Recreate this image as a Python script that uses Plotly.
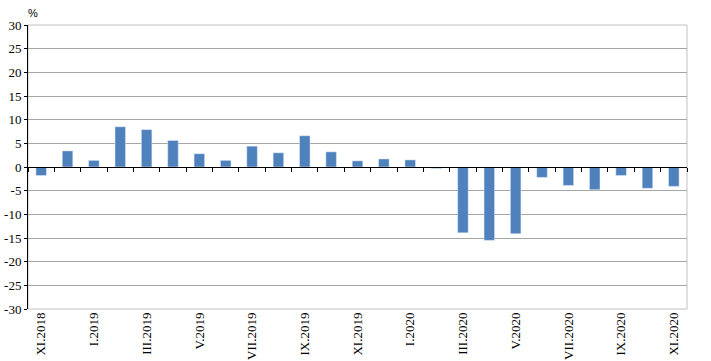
import plotly.graph_objects as go

months = ["XI.2018", "XII.2018", "I.2019", "II.2019", "III.2019", "IV.2019", "V.2019",
          "VI.2019", "VII.2019", "VIII.2019", "IX.2019", "X.2019", "XI.2019", "XII.2019",
          "I.2020", "II.2020", "III.2020", "IV.2020", "V.2020", "VI.2020", "VII.2020",
          "VIII.2020", "IX.2020", "X.2020", "XI.2020"]
values = [-1.8, 3.4, 1.4, 8.5, 7.9, 5.6, 2.8, 1.4, 4.4, 3.0, 6.6, 3.2, 1.3, 1.7,
          1.5, -0.3, -13.9, -15.5, -14.1, -2.2, -3.9, -4.8, -1.8, -4.5, -4.1]
y_ticks = list(range(-30, 31, 5))
y_tick_text = [str(v) for v in y_ticks]

idx = list(range(len(months)))
label_idx = idx[::2]
label_txt = [months[i] for i in label_idx]
boundaries = [i - 0.5 for i in range(len(months) + 1)]

fig = go.Figure()
fig.add_trace(go.Bar(x=idx, y=values, marker_color="#4F81BD", width=0.4,
                     showlegend=False))
fig.add_trace(go.Scatter(x=[idx[0]], y=[0], xaxis="x2", mode="markers",
                         marker_opacity=0, showlegend=False, hoverinfo="skip"))

font = dict(family="Liberation Serif", size=13, color="#000000")
fig.update_layout(
    width=711, height=361,
    margin=dict(l=28, r=24, t=25, b=52),
    plot_bgcolor="white", paper_bgcolor="white",
    xaxis=dict(range=[-0.5, len(months) - 0.5], tickmode="array",
               tickvals=label_idx, ticktext=label_txt, tickangle=-90,
               showgrid=False, zeroline=False, ticks="", tickfont=font,
               showline=False, automargin=False),
    xaxis2=dict(overlaying="x", anchor="free", position=0.5,
                range=[-0.5, len(months) - 0.5], tickmode="array",
                tickvals=boundaries, ticks="outside", ticklen=4,
                tickcolor="black", showticklabels=False, showline=True,
                linecolor="black", linewidth=1, showgrid=False, zeroline=False,
                automargin=False),
    yaxis=dict(range=[-30, 30], tickmode="array", tickvals=y_ticks,
               ticktext=y_tick_text,
               showgrid=True, gridcolor="#A6A6A6", gridwidth=1,
               zeroline=False, showline=True, linecolor="black", linewidth=1,
               ticks="outside", ticklen=3, tickcolor="black", tickfont=font,
               automargin=False),
    shapes=[dict(type="rect", xref="paper", yref="paper", x0=0, x1=1, y0=0, y1=1,
                 line=dict(color="#C0C0C0", width=1), layer="below")],
    annotations=[dict(text="%", xref="paper", yref="paper", x=0.007, y=1,
                      xanchor="center", yanchor="bottom", yshift=4, showarrow=False,
                      font=dict(family="Liberation Sans", size=11, color="black"))],
)
fig.write_html("out.html", config={"displayModeBar": False},
               post_script="document.body.style.margin='0';")
